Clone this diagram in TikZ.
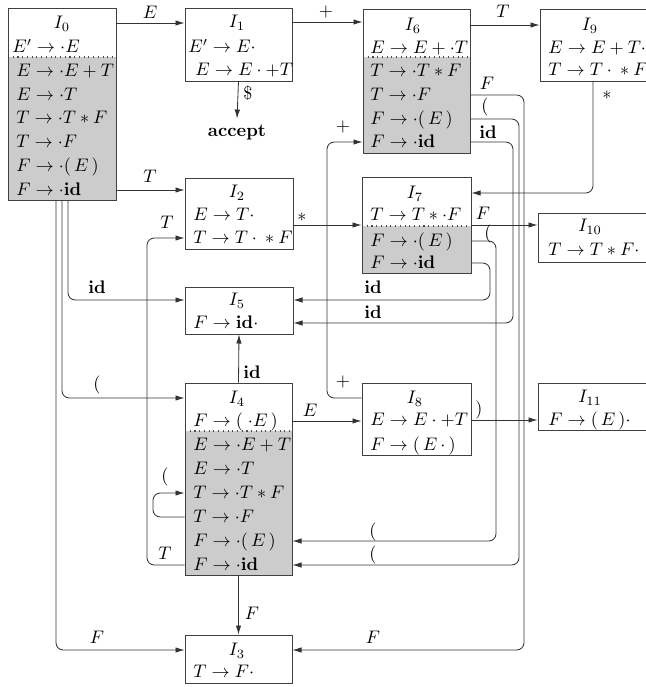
\documentclass[tikz,border=0pt]{standalone}
\usetikzlibrary{arrows.meta,fit}
\begin{document}
\begin{tikzpicture}[x=0.55pt,y=-0.55pt,
  box/.style={draw=black!75, line width=0.45pt, inner sep=0pt},
  it/.style={anchor=west, inner sep=0pt, text height=7.5pt, text depth=1pt},
  ttl/.style={inner sep=0pt, text height=7.5pt, text depth=1pt},
  lab/.style={inner sep=0pt},
  arr/.style={draw=black!80, line width=0.45pt, rounded corners=4pt, -{Latex[length=5pt,width=3pt]}},
  closure/.style={fill=black!20},
  sepline/.style={draw=black!70, dotted, line width=0.6pt}]
\useasboundingbox (0,0) rectangle (646,687);
\clip (0,0) rectangle (646,687);
% shaded closure areas
\fill[closure] (8,57) rectangle (116,200);
\fill[closure] (363,57) rectangle (470,153);
\fill[closure] (362,226) rectangle (471,273);
\fill[closure] (185,431) rectangle (292,575);
% separators
\draw[sepline] (8,57) -- (116,57);
\draw[sepline] (363,57) -- (470,57);
\draw[sepline] (362,226) -- (471,226);
\draw[sepline] (185,431) -- (292,431);
% boxes
\node[box, fit={(8,8) (116,200)}] (I0) {};
\node[box, fit={(185,8) (292,81)}] (I1) {};
\node[box, fit={(185,178) (293,249)}] (I2) {};
\node[box, fit={(185,635) (292,683)}] (I3) {};
\node[box, fit={(185,383) (292,575)}] (I4) {};
\node[box, fit={(185,287) (293,334)}] (I5) {};
\node[box, fit={(363,9) (470,153)}] (I6) {};
\node[box, fit={(362,177) (471,273)}] (I7) {};
\node[box, fit={(362,383) (471,455)}] (I8) {};
\node[box, fit={(540,9) (652,81)}] (I9) {};
\node[box, fit={(538,213) (652,262)}] (I10) {};
\node[box, fit={(538,383) (652,430)}] (I11) {};
% I0
\node[ttl] (I0t) at (62,23) {$I_0$};
\node[it] (I0k) at (12,47) {$E'\to\cdot E$};
\node[it] (I0c1) at (16,71) {$E\to\cdot E+T$};
\node[it] (I0c2) at (16,95) {$E\to\cdot T$};
\node[it] (I0c3) at (16,118) {$T\to\cdot T*F$};
\node[it] (I0c4) at (16,142) {$T\to\cdot F$};
\node[it] (I0c5) at (16,166) {$F\to\cdot(\,E\,)$};
\node[it] (I0c6) at (16,190) {$F\to\cdot\mathbf{id}$};
% I1
\node[ttl] (I1t) at (237,22) {$I_1$};
\node[it] (I1a) at (188,47) {$E'\to E\cdot$};
\node[it] (I1b) at (195,70) {$E\to E\cdot+T$};
\node[lab, inner sep=3pt] (acc) at (237,132) {\textbf{accept}};
% I2
\node[ttl] (I2t) at (237,192) {$I_2$};
\node[it] (I2c1) at (193,215) {$E\to T\cdot$};
\node[it] (I2c2) at (193,238) {$T\to T\cdot{}*F$};
% I3
\node[ttl] (I3t) at (237,650) {$I_3$};
\node[it] (I3c1) at (193,672) {$T\to F\cdot$};
% I4
\node[ttl] (I4t) at (237,398) {$I_4$};
\node[it] (I4k) at (193,421) {$F\to(\;\cdot E\,)$};
\node[it] (I4c1) at (193,445) {$E\to\cdot E+T$};
\node[it] (I4c2) at (193,469) {$E\to\cdot T$};
\node[it] (I4c3) at (193,493) {$T\to\cdot T*F$};
\node[it] (I4c4) at (193,517) {$T\to\cdot F$};
\node[it] (I4c5) at (193,541) {$F\to\cdot(\,E\,)$};
\node[it] (I4c6) at (193,565) {$F\to\cdot\mathbf{id}$};
% I5
\node[ttl] (I5t) at (237,300) {$I_5$};
\node[it] (I5c1) at (193,323) {$F\to\mathbf{id}\cdot$};
% I6
\node[ttl] (I6t) at (413,25) {$I_6$};
\node[it] (I6k) at (370,48) {$E\to E+\cdot T$};
\node[it] (I6c1) at (370,71) {$T\to\cdot T*F$};
\node[it] (I6c2) at (370,95) {$T\to\cdot F$};
\node[it] (I6c3) at (370,119) {$F\to\cdot(\,E\,)$};
\node[it] (I6c4) at (370,142) {$F\to\cdot\mathbf{id}$};
% I7
\node[ttl] (I7t) at (415,193) {$I_7$};
\node[it] (I7k) at (370,215) {$T\to T*\cdot F$};
\node[it] (I7c1) at (370,241) {$F\to\cdot(\,E\,)$};
\node[it] (I7c2) at (370,263) {$F\to\cdot\mathbf{id}$};
% I8
\node[ttl] (I8t) at (415,398) {$I_8$};
\node[it] (I8c1) at (370,420) {$E\to E\cdot+T$};
\node[it] (I8c2) at (370,445) {$F\to(\,E\,\cdot\,)$};
% I9
\node[ttl] (I9t) at (590,25) {$I_9$};
\node[it] (I9c1) at (548,48) {$E\to E+T\cdot$};
\node[it] (I9c2) at (548,70) {$T\to T\cdot{}*F$};
% I10
\node[ttl] (I10t) at (590,226) {$I_{10}$};
\node[it] (I10c1) at (548,250) {$T\to T*F\cdot$};
% I11
\node[ttl] (I11t) at (590,397) {$I_{11}$};
\node[it] (I11c1) at (548,420) {$F\to(\,E\,)\cdot$};
% channel coordinates
\coordinate (v56) at (56,0);
\coordinate (v62) at (62,0);
\coordinate (v68) at (68,0);
\coordinate (v147) at (147,0);
\coordinate (v153) at (153,0);
\coordinate (v327) at (327,0);
\coordinate (v490) at (490,0);
\coordinate (v496) at (496,0);
\coordinate (v513) at (513,0);
\coordinate (v519) at (519,0);
\coordinate (v524) at (524,0);
\coordinate (v593) at (593,0);
% edges
\draw[arr] (I0.east |- I0t) -- (I1.west |- I0t);
\draw[arr] (I0.east |- I0c6) -- (I2.west |- I0c6);
\draw[arr] (I0.south -| v68) |- (I5.west |- I5t);
\draw[arr] (I0.south -| v62) |- (I4.west |- I4t);
\draw[arr] (I0.south -| v56) |- (I3.west |- I3t);
\draw[arr] (I1.south) -- (acc.north);
\draw[arr] (I1.east |- I1t) -- (I6.west |- I1t);
\draw[arr] (I6.east |- I6t) -- (I9.west |- I6t);
\draw[arr] (I9.south -| v593) |- (I7.east |- I7t);
\draw[arr] (I6.east |- I6c2) -| (v524 |- I3t) -- (I3.east |- I3t);
\draw[arr] (I6.east |- I6c3) -| (v519 |- I4c6) -- (I4.east |- I4c6);
\draw[arr] (I6.east |- I6c4) -| (v513 |- I5c1) -- (I5.east |- I5c1);
\draw[arr] (I7.east) -- (I10.west |- I7.east);
\draw[arr] (I7.east |- I7c1) -| (v496 |- I4c5) -- (I4.east |- I4c5);
\draw[arr] (I7.east |- I7c2) -| (v490 |- I5t) -- (I5.east |- I5t);
\draw[arr] (I2.east |- I7.west) -- (I7.west);
\draw[arr] (I4.west |- I4c6) -| (v147 |- I2c2) -- (I2.west |- I2c2);
\draw[arr] (I4.north) -- (I5.south);
\draw[arr] (I4.south) -- (I3.north);
\draw[arr] (I4.east |- I4k) -- (I8.west |- I4k);
\draw[arr] (I4.west |- I4c4) -| (v153 |- I4c3) -- (I4.west |- I4c3);
\draw[arr] (I8.west |- I8t) -| (v327 |- I6c4) -- (I6.west |- I6c4);
\draw[arr] (I8.east |- I8c1) -- (I11.west |- I8c1);
% labels
\node[lab] (l01) at (150,12) {$E$};
\node[lab] (l02) at (150,176) {$T$};
\node[lab] (l16) at (326,12) {$+$};
\node[lab] (l69) at (503,11) {$T$};
\node[lab] (lacc) at (248,93) {\$};
\node[lab] (l97) at (607,95) {$*$};
\node[lab] (l63) at (487,83) {$F$};
\node[lab] (l64) at (485,107) {$($};
\node[lab] (l65) at (488,132) {$\mathbf{id}$};
\node[lab] (l86a) at (343,127) {$+$};
\node[lab] (l86b) at (343,382) {$+$};
\node[lab] (l27) at (302,217) {$*$};
\node[lab] (l42a) at (167,222) {$T$};
\node[lab] (l42b) at (165,553) {$T$};
\node[lab] (l710) at (483,213) {$F$};
\node[lab] (l74) at (488,234) {$($};
\node[lab] (l05) at (97,287) {$\mathbf{id}$};
\node[lab] (l75) at (373,287) {$\mathbf{id}$};
\node[lab] (l65b) at (373,312) {$\mathbf{id}$};
\node[lab] (l45) at (252,372) {$\mathbf{id}$};
\node[lab] (l04) at (97,385) {$($};
\node[lab] (l48) at (310,410) {$E$};
\node[lab] (l811) at (479,410) {$)$};
\node[lab] (l44) at (165,477) {$($};
\node[lab] (l74b) at (373,532) {$($};
\node[lab] (l64b) at (373,555) {$($};
\node[lab] (l43) at (252,613) {$F$};
\node[lab] (l03) at (97,637) {$F$};
\node[lab] (l63b) at (373,637) {$F$};
\end{tikzpicture}
\end{document}
